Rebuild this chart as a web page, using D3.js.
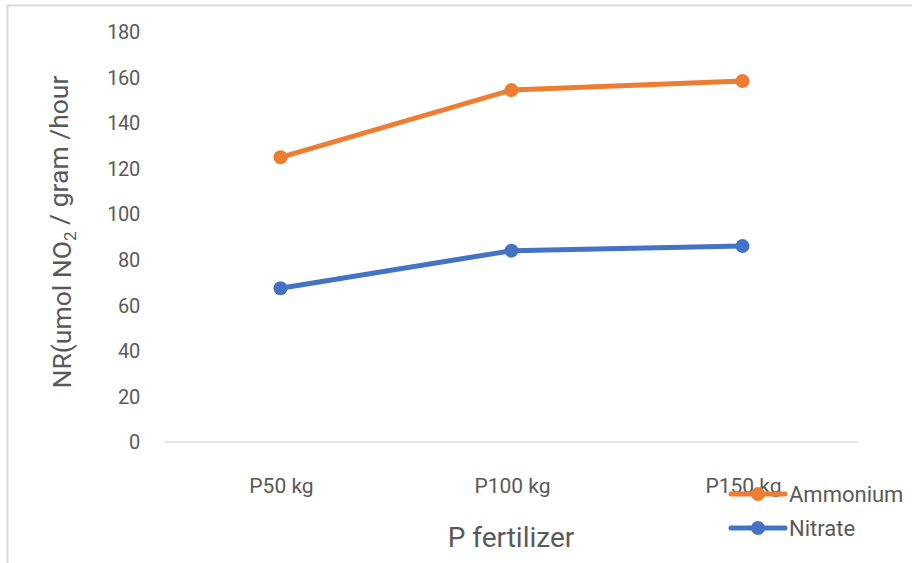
<!DOCTYPE html>
<html><head><meta charset="utf-8">
<script src="https://cdn.jsdelivr.net/npm/d3@7"></script>
<style>body{margin:0;background:#fff;} svg{display:block;}</style>
</head><body>
<script>
const categories = ["P50 kg", "P100 kg", "P150 kg"];
const ammonium = [125, 154.5, 158.5];
const nitrate = [67.5, 84, 86];
const yTicks = [0, 20, 40, 60, 80, 100, 120, 140, 160, 180];
const seriesNames = ["Ammonium", "Nitrate"];
const seriesColors = ["#ED7D31", "#4472C4"];

const W = 912, H = 563;
const svg = d3.select("body").append("svg").attr("width", W).attr("height", H);
// border
svg.append("path").attr("d", `M7.5,${H} L7.5,5.5 L${W},5.5`).attr("fill","none").attr("stroke","#d9d9d9").attr("stroke-width",2);

const x = d3.scaleBand().domain(categories).range([165, 858]);
const y = d3.scaleLinear().domain([0, 180]).range([442, 32]);

const font = "Roboto, 'Liberation Sans', sans-serif";
const txt = "#595959";

// y ticks
svg.append("g").selectAll("text").data(yTicks).join("text")
  .attr("x", 140).attr("y", d => y(d)).attr("dy", "0.36em")
  .attr("text-anchor", "end").attr("font-family", font).attr("font-size", 20).attr("fill", txt)
  .attr("letter-spacing", -0.3)
  .text(d => d);

// baseline
svg.append("line").attr("x1", 165).attr("x2", 858).attr("y1", y(0)).attr("y2", y(0))
  .attr("stroke", "#d9d9d9").attr("stroke-width", 1.3);

// x ticks
svg.append("g").selectAll("text").data(categories).join("text")
  .attr("x", d => x(d) + x.bandwidth()/2 + 1).attr("y", 485).attr("dy", "0.36em")
  .attr("text-anchor", "middle").attr("font-family", font).attr("font-size", 21).attr("fill", txt)
  .text(d => d);

// axis titles
svg.append("text").attr("x", 511).attr("y", 537).attr("dy","0.36em").attr("text-anchor","middle")
  .attr("font-family", font).attr("font-size", 28).attr("fill", txt).text("P fertilizer");

const yt = svg.append("text").attr("transform", "translate(61,232) rotate(-90)").attr("dy","0.36em")
  .attr("text-anchor","middle").attr("font-family", font).attr("font-size", 26.5).attr("fill", txt);
yt.append("tspan").text("NR(umol NO");
yt.append("tspan").attr("font-size", 17).attr("dy", "0.3em").text("2");
yt.append("tspan").attr("dy", "-0.3em").text(" / gram /hour");

// series
const data = [ammonium, nitrate];
const line = d3.line().x((d,i) => x(categories[i]) + x.bandwidth()/2).y(d => y(d));
data.forEach((vals, s) => {
  svg.append("path").datum(vals).attr("d", line).attr("fill","none")
    .attr("stroke", seriesColors[s]).attr("stroke-width", 5).attr("stroke-linejoin","round").attr("stroke-linecap","round");
  svg.append("g").selectAll("circle").data(vals).join("circle")
    .attr("cx", (d,i) => x(categories[i]) + x.bandwidth()/2).attr("cy", d => y(d)).attr("r", 7)
    .attr("fill", seriesColors[s]);
});

// legend
const legY = [494, 528];
seriesNames.forEach((n, s) => {
  const g = svg.append("g");
  g.append("line").attr("x1", 731).attr("x2", 785).attr("y1", legY[s]).attr("y2", legY[s])
    .attr("stroke", seriesColors[s]).attr("stroke-width", 5).attr("stroke-linecap","round");
  g.append("circle").attr("cx", 758).attr("cy", legY[s]).attr("r", 7).attr("fill", seriesColors[s]);
  g.append("text").attr("x", 789).attr("y", legY[s]).attr("dy","0.36em")
    .attr("font-family", font).attr("font-size", 22).attr("fill", txt).text(n);
});
</script>
</body></html>
